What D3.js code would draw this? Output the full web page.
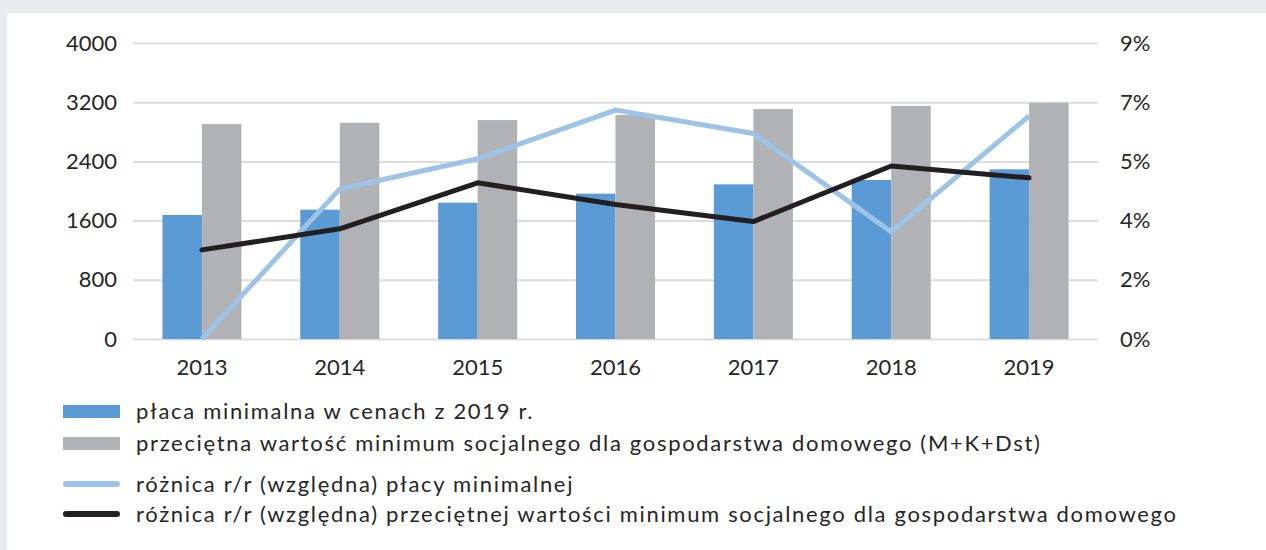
<!DOCTYPE html>
<html>
<head>
<meta charset="utf-8">
<script src="https://cdn.jsdelivr.net/npm/d3@7"></script>
<style>
  body { margin: 0; background: #e9eaec; }
  svg text { font-family: Lato, sans-serif; fill: #262626; }
</style>
</head>
<body>
<div id="chart"></div>
<script>
const years = ['2013', '2014', '2015', '2016', '2017', '2018', '2019'];
const minWage = [1676, 1747, 1842, 1964, 2090, 2149, 2293];
const socialMin = [2905, 2923, 2959, 3027, 3108, 3149, 3193];
const wageChange = [0, 4.56, 5.48, 6.96, 6.25, 3.26, 6.78];
const socialChange = [2.71, 3.35, 4.75, 4.09, 3.57, 5.26, 4.90];
const leftTicks = [0, 800, 1600, 2400, 3200, 4000];
const rightTicks = [0, 1.8, 3.6, 5.4, 7.2, 9];
const legendLabels = [
    'płaca minimalna w cenach z 2019 r.',
    'przeciętna wartość minimum socjalnego dla gospodarstwa domowego (M+K+Dst)',
    'różnica r/r (względna) płacy minimalnej',
    'różnica r/r (względna) przeciętnej wartości minimum socjalnego dla gospodarstwa domowego'
];

const width = 1266;
const height = 550;
const plot = { left: 133, right: 1098, top: 43, bottom: 339 };

const colors = {
    wage: '#5b9bd5',
    social: '#b1b2b6',
    wageLine: '#9dc3e6',
    socialLine: '#231f20',
    grid: '#dcdddf'
};

const svg = d3.select('#chart')
    .append('svg')
    .attr('width', width)
    .attr('height', height);

// white panel
svg.append('rect')
    .attr('x', 7)
    .attr('y', 13)
    .attr('width', width - 7)
    .attr('height', height - 13)
    .attr('fill', '#fff');

const x = d3.scaleBand()
    .domain(years)
    .range([plot.left, plot.right])
    .paddingInner(0.427)
    .paddingOuter(0.2135);

const xSub = d3.scaleBand()
    .domain(['wage', 'social'])
    .range([0, x.bandwidth()]);

const y = d3.scaleLinear()
    .domain([0, 4000])
    .range([plot.bottom, plot.top]);

const yRight = d3.scaleLinear()
    .domain([0, 9])
    .range([plot.bottom, plot.top]);

// Left axis with gridlines
const leftAxis = svg.append('g')
    .attr('transform', `translate(${plot.left},0)`)
    .call(d3.axisLeft(y)
        .tickValues(leftTicks)
        .tickSize(-(plot.right - plot.left))
        .tickPadding(16)
        .tickFormat(d3.format('d')));
leftAxis.select('.domain').remove();
leftAxis.selectAll('line')
    .attr('stroke', colors.grid)
    .attr('stroke-width', 2);
leftAxis.selectAll('text')
    .style('font-size', '22px')
    .attr('fill', '#262626');

// Right axis
const rightAxis = svg.append('g')
    .attr('transform', `translate(${plot.right},0)`)
    .call(d3.axisRight(yRight)
        .tickValues(rightTicks)
        .tickSize(0)
        .tickPadding(22)
        .tickFormat(d => d3.format('.0f')(d) + '%'));
rightAxis.select('.domain').remove();
rightAxis.selectAll('text')
    .style('font-size', '22px')
    .attr('fill', '#262626');

// Bars
const groups = svg.append('g')
    .selectAll('g')
    .data(years)
    .join('g')
    .attr('transform', d => `translate(${x(d)},0)`);

groups.append('rect')
    .attr('x', xSub('wage'))
    .attr('width', xSub.bandwidth())
    .attr('y', (d, i) => y(minWage[i]))
    .attr('height', (d, i) => y(0) - y(minWage[i]))
    .attr('fill', colors.wage);

groups.append('rect')
    .attr('x', xSub('social'))
    .attr('width', xSub.bandwidth())
    .attr('y', (d, i) => y(socialMin[i]))
    .attr('height', (d, i) => y(0) - y(socialMin[i]))
    .attr('fill', colors.social);

// Bottom axis (labels only)
const bottomAxis = svg.append('g')
    .attr('transform', `translate(0,${plot.bottom})`)
    .call(d3.axisBottom(x).tickSize(0).tickPadding(20));
bottomAxis.select('.domain').remove();
bottomAxis.selectAll('text')
    .style('font-size', '22px')
    .attr('fill', '#262626');

// Lines
const line = d3.line()
    .x(d => x(d.year) + x.bandwidth() / 2)
    .y(d => yRight(d.value));

svg.append('path')
    .datum(years.map((d, i) => ({ year: d, value: wageChange[i] })))
    .attr('d', line)
    .attr('fill', 'none')
    .attr('stroke', colors.wageLine)
    .attr('stroke-width', 5);

svg.append('path')
    .datum(years.map((d, i) => ({ year: d, value: socialChange[i] })))
    .attr('d', line)
    .attr('fill', 'none')
    .attr('stroke', colors.socialLine)
    .attr('stroke-width', 5)
    .attr('stroke-linecap', 'round')
    .attr('stroke-linejoin', 'round');

// Legend
const legendRows = [411.5, 443.5, 484, 514];
const legend = svg.append('g');

legend.append('rect')
    .attr('x', 63).attr('y', legendRows[0] - 6.5)
    .attr('width', 57).attr('height', 13)
    .attr('fill', colors.wage);

legend.append('rect')
    .attr('x', 63).attr('y', legendRows[1] - 6.5)
    .attr('width', 57).attr('height', 13)
    .attr('fill', colors.social);

legend.append('line')
    .attr('x1', 66).attr('x2', 117)
    .attr('y1', legendRows[2]).attr('y2', legendRows[2])
    .attr('stroke', colors.wageLine)
    .attr('stroke-width', 6)
    .attr('stroke-linecap', 'round');

legend.append('line')
    .attr('x1', 66).attr('x2', 117)
    .attr('y1', legendRows[3]).attr('y2', legendRows[3])
    .attr('stroke', colors.socialLine)
    .attr('stroke-width', 6)
    .attr('stroke-linecap', 'round');

const legendText = legend.selectAll('text')
    .data(legendLabels)
    .join('text')
    .attr('x', 136)
    .attr('y', (d, i) => legendRows[i])
    .attr('dy', '0.36em')
    .style('font-size', '22px')
    .text(d => d);

// the original typeface runs wider than Lato: spread letters so the longest row ends near x=1176
const longest = legendText.nodes()[3];
const natural = longest.getComputedTextLength();
const spacing = (1176 - 136 - natural) / (legendLabels[3].length - 1);
legendText.style('letter-spacing', `${Math.max(0, spacing)}px`);
</script>
</body>
</html>
